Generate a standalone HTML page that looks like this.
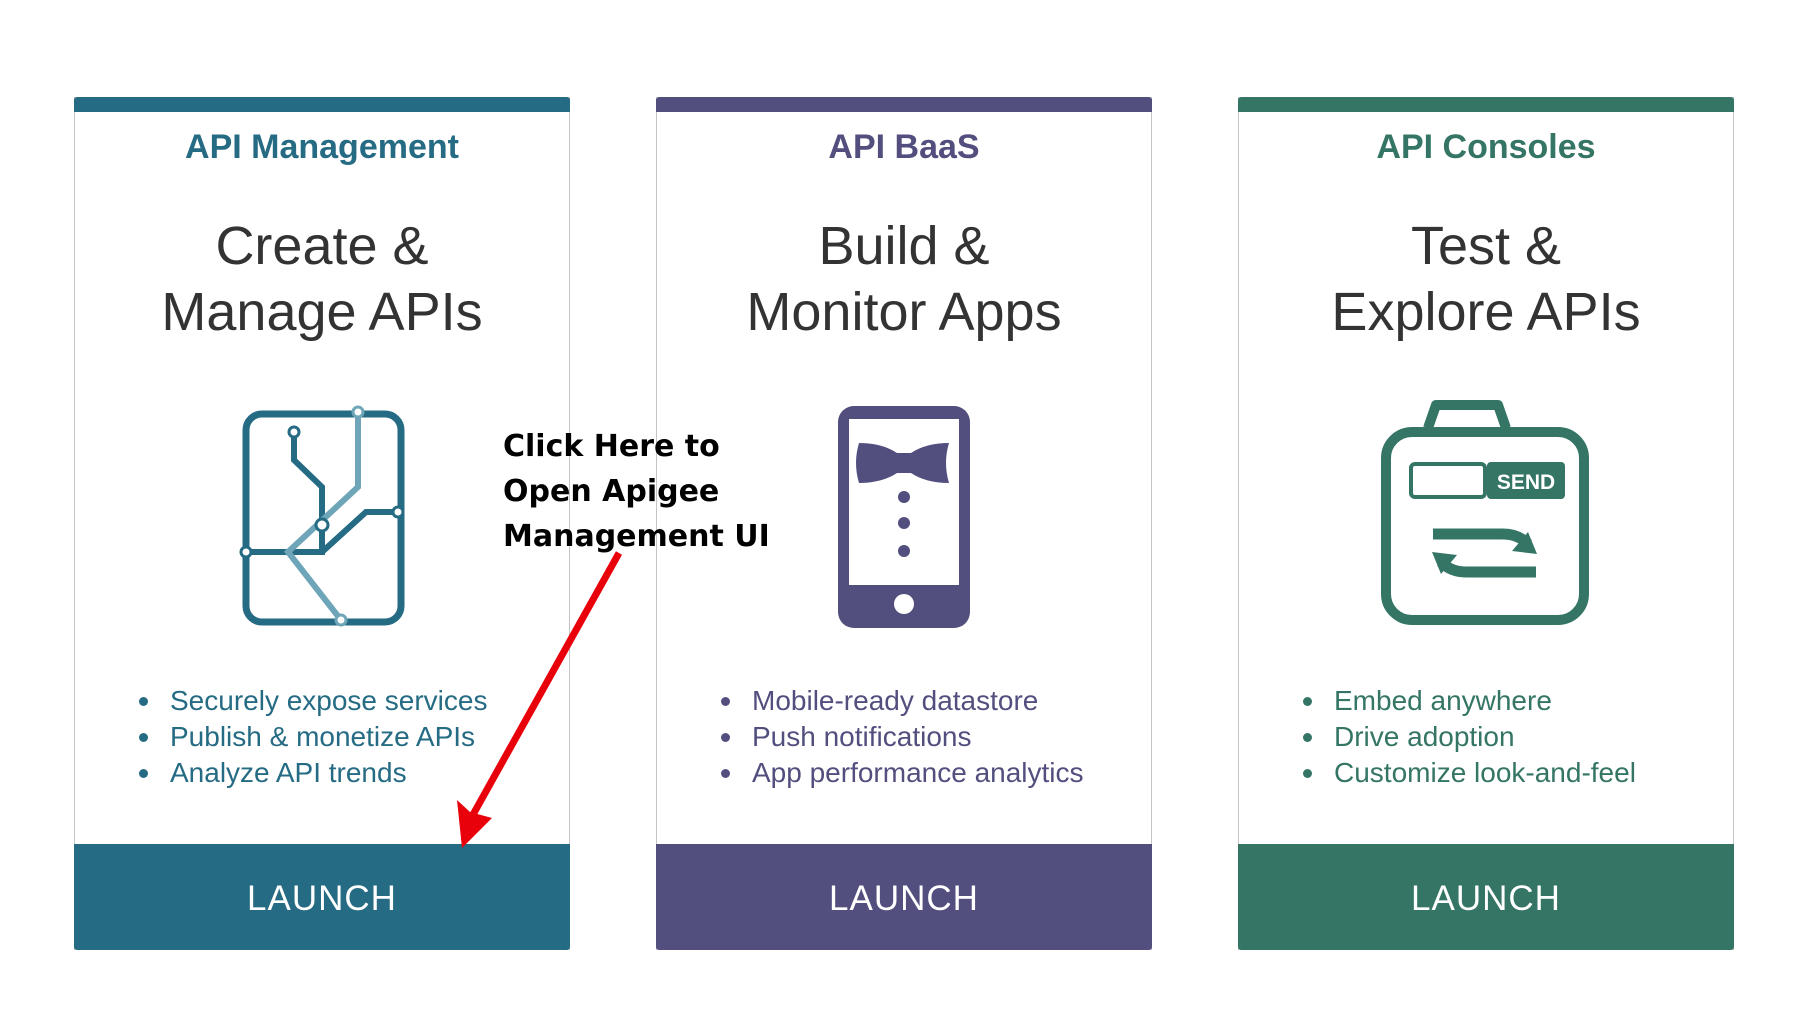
<!DOCTYPE html>
<html><head><meta charset="utf-8"><style>
body{margin:0;width:1816px;height:1012px;background:#fff;position:relative;overflow:hidden;font-family:"Liberation Sans",sans-serif}
.card{position:absolute;top:97px;width:496px;height:853px;border:1px solid #c4c4c4;border-top:none;border-bottom:none;box-sizing:border-box}
.bar{position:absolute;left:-1px;right:-1px;top:0;height:15px;border-radius:3px 3px 0 0}
.t{position:absolute;left:0;right:0;top:30px;text-align:center;font-size:34px;line-height:40px;font-weight:bold}
.h{position:absolute;left:0;right:0;top:116px;text-align:center;font-size:54px;line-height:66px;color:#333}
.ul{position:absolute;left:64px;top:586px;font-size:28px;line-height:36px}
.ul div{position:relative;padding-left:31px}
.ul div:before{content:"";position:absolute;left:0;top:14px;width:9px;height:9px;border-radius:50%;background:currentColor}
.l{position:absolute;left:-1px;right:-1px;bottom:0;height:106px;color:#fff;font-size:35px;text-align:center;line-height:110px;border-radius:0 0 3px 3px;letter-spacing:1px}
svg{position:absolute}
</style></head><body>
<div class="card" style="left:74px;color:#266b84"><div class="bar" style="background:#266b84"></div>
<div class="t">API Management</div><div class="h">Create &amp;<br>Manage APIs</div>
<div class="ul"><div>Securely expose services</div><div>Publish &amp; monetize APIs</div><div>Analyze API trends</div></div>
<div class="l" style="background:#266b84">LAUNCH</div></div>
<div class="card" style="left:656px;color:#524f7f"><div class="bar" style="background:#524f7f"></div>
<div class="t">API BaaS</div><div class="h">Build &amp;<br>Monitor Apps</div>
<div class="ul"><div>Mobile-ready datastore</div><div>Push notifications</div><div>App performance analytics</div></div>
<div class="l" style="background:#524f7f">LAUNCH</div></div>
<div class="card" style="left:1238px;color:#347565"><div class="bar" style="background:#347565"></div>
<div class="t">API Consoles</div><div class="h">Test &amp;<br>Explore APIs</div>
<div class="ul"><div>Embed anywhere</div><div>Drive adoption</div><div>Customize look-and-feel</div></div>
<div class="l" style="background:#347565">LAUNCH</div></div>

<svg style="left:236px;top:402px" width="176" height="230" viewBox="0 0 176 230">
<rect x="10" y="12" width="155" height="208" rx="16" fill="none" stroke="#266b84" stroke-width="7"/>
<polyline points="58,32 58,58 86,85 86,150 52,150 10,150" fill="none" stroke="#266b84" stroke-width="6"/>
<polyline points="86,150 130,110 160,110" fill="none" stroke="#266b84" stroke-width="6"/>
<polyline points="122,10 122,85 52,150 105,218" fill="none" stroke="#6ea5b8" stroke-width="6"/>
<g fill="#fff" stroke="#266b84" stroke-width="3"><circle cx="58" cy="30" r="5"/><circle cx="10" cy="150" r="5"/><circle cx="162" cy="110" r="5"/><circle cx="86" cy="123" r="6"/></g>
<g fill="#fff" stroke="#6ea5b8" stroke-width="3"><circle cx="122" cy="10" r="5"/><circle cx="105" cy="218" r="5"/></g>
</svg>
<svg style="left:837px;top:405px" width="134" height="224" viewBox="0 0 134 224">
<rect x="1" y="1" width="132" height="222" rx="16" fill="#524f7f"/>
<rect x="12" y="14" width="110" height="166" fill="#fff"/>
<circle cx="67" cy="199" r="10" fill="#fff"/>
<path d="M22,38 Q45,38 60,48 L74,48 Q89,38 112,38 Q106,58 112,78 Q89,78 74,68 L60,68 Q45,78 22,78 Q16,58 22,38Z" fill="#524f7f"/>
<circle cx="67" cy="92" r="6" fill="#524f7f"/><circle cx="67" cy="118" r="6" fill="#524f7f"/><circle cx="67" cy="146" r="6" fill="#524f7f"/>
</svg>
<svg style="left:1378px;top:400px" width="215" height="230" viewBox="0 0 215 230">
<path d="M50,28 L58,5 L120,5 L128,28" fill="none" stroke="#347565" stroke-width="10" stroke-linejoin="round"/>
<rect x="8" y="32" width="198" height="188" rx="26" fill="none" stroke="#347565" stroke-width="10"/>
<rect x="33" y="64" width="74" height="33" rx="4" fill="none" stroke="#347565" stroke-width="4"/>
<rect x="109" y="62" width="78" height="37" rx="4" fill="#347565"/>
<text x="148" y="89" font-size="21" font-weight="bold" fill="#fff" text-anchor="middle" font-family="Liberation Sans,sans-serif">SEND</text>
<path d="M55,134 L125,134 Q140,134 150,144" fill="none" stroke="#347565" stroke-width="11"/>
<path d="M150,132 L159,154 L134,151Z" fill="#347565"/>
<path d="M158,172 L88,172 Q73,172 63,162" fill="none" stroke="#347565" stroke-width="11"/>
<path d="M63,174 L54,152 L79,155Z" fill="#347565"/>
</svg>

<div style="position:absolute;left:503px;top:424px;font-size:30px;font-weight:bold;line-height:45px;color:#000;font-family:'DejaVu Sans',sans-serif">Click Here to<br>Open Apigee<br>Management UI</div>
<svg style="left:0;top:0" width="1816" height="1012">
<line x1="619" y1="553" x2="470" y2="820" stroke="#e8000b" stroke-width="7"/>
<path d="M462,848 L457,800 L470,812 L492,818Z" fill="#e8000b"/>
</svg>
</body></html>
